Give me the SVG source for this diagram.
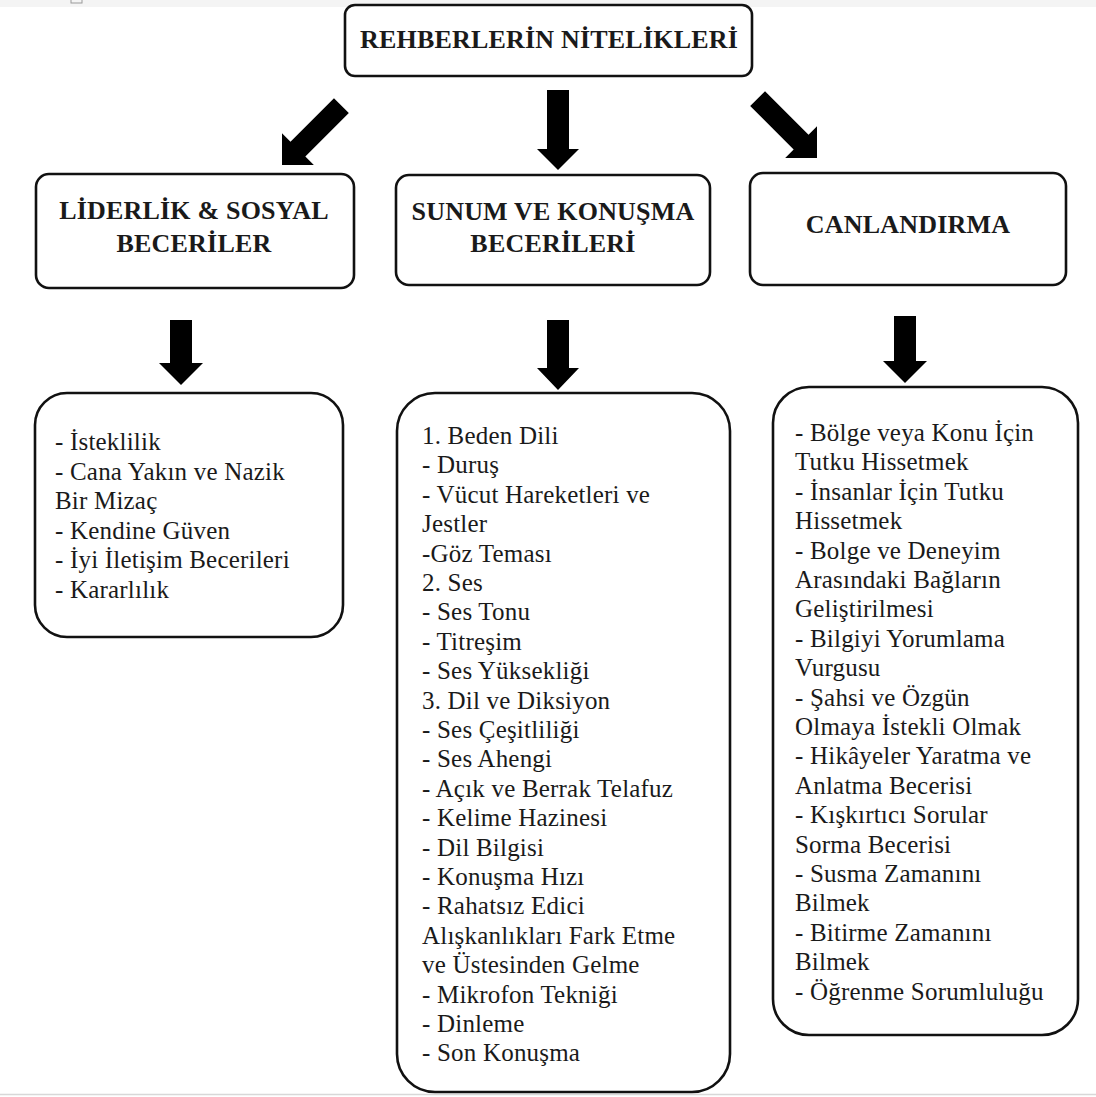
<svg xmlns="http://www.w3.org/2000/svg" width="1096" height="1097" viewBox="0 0 1096 1097">
  <style>
    .box { fill: #ffffff; stroke: #111111; stroke-width: 2.6; }
    .head { font-family: 'Liberation Serif', 'Times New Roman', serif; font-weight: bold; font-size: 26px; letter-spacing: 0.2px; fill: #1a1a1a; text-anchor: middle; }
    .item { font-family: 'Liberation Serif', 'Times New Roman', serif; font-size: 25px; letter-spacing: 0.2px; fill: #1a1a1a; }
    .arrow { fill: #000000; }
  </style>

  <!-- page background with the faint scan edges -->
  <rect x="0" y="0" width="1096" height="1097" fill="#ffffff"/>
  <rect x="0" y="0" width="1096" height="7" fill="#f4f4f4"/>
  <rect x="71" y="-2" width="11" height="5" fill="none" stroke="#9a9a9a" stroke-width="1"/>
  <line x1="0" y1="1094.5" x2="1096" y2="1094.5" stroke="#d8d8d8" stroke-width="1.5"/>

  <!-- connectors: block arrows -->
  <g id="connectors">
    <!-- title to the three categories -->
    <polygon class="arrow" transform="translate(282,165) rotate(45)" points="0,0 -22.5,-22.5 -10.5,-22.5 -10.5,-84 10.5,-84 10.5,-22.5 22.5,-22.5"/>
    <polygon class="arrow" points="558,170 537,149 547,149 547,90 569,90 569,149 579,149"/>
    <polygon class="arrow" transform="translate(817,158) rotate(-45)" points="0,0 -22.5,-22.5 -10.5,-22.5 -10.5,-84 10.5,-84 10.5,-22.5 22.5,-22.5"/>
    <!-- categories to their lists -->
    <polygon class="arrow" points="181,385 159,363 170,363 170,320 192,320 192,363 203,363"/>
    <polygon class="arrow" points="558,390 537,368 547,368 547,320 569,320 569,368 579,368"/>
    <polygon class="arrow" points="905,383 883,361 894,361 894,316 916,316 916,361 927,361"/>
  </g>

  <!-- title -->
  <g id="node-title">
    <rect class="box" x="345" y="5" width="407" height="71" rx="10"/>
    <text class="head" x="549" y="48">REHBERLERİN NİTELİKLERİ</text>
  </g>

  <!-- category: leadership and social skills -->
  <g id="node-leadership">
    <rect class="box" x="36" y="174" width="318" height="114" rx="13"/>
    <text class="head" x="194" y="219">LİDERLİK &amp; SOSYAL</text>
    <text class="head" x="194" y="252">BECERİLER</text>
  </g>

  <!-- category: presentation and speaking skills -->
  <g id="node-presentation">
    <rect class="box" x="396" y="175" width="314" height="110" rx="13"/>
    <text class="head" x="553" y="220">SUNUM VE KONUŞMA</text>
    <text class="head" x="553" y="252">BECERİLERİ</text>
  </g>

  <!-- category: interpretation -->
  <g id="node-animation">
    <rect class="box" x="750" y="173" width="316" height="112" rx="13"/>
    <text class="head" x="908" y="233">CANLANDIRMA</text>
  </g>

  <!-- list: leadership and social skills -->
  <g id="node-leadership-list">
    <rect class="box" x="35" y="393" width="308" height="244" rx="32"/>
    <text class="item" x="55" y="450">- İsteklilik</text>
    <text class="item" x="55" y="479.5">- Cana Yakın ve Nazik</text>
    <text class="item" x="55" y="509">Bir Mizaç</text>
    <text class="item" x="55" y="538.5">- Kendine Güven</text>
    <text class="item" x="55" y="568">- İyi İletişim Becerileri</text>
    <text class="item" x="55" y="597.5">- Kararlılık</text>
  </g>

  <!-- list: presentation and speaking skills -->
  <g id="node-presentation-list">
    <rect class="box" x="397" y="393" width="333" height="699" rx="38"/>
    <text class="item" x="422" y="444">1. Beden Dili</text>
    <text class="item" x="422" y="473.4">- Duruş</text>
    <text class="item" x="422" y="502.8">- Vücut Hareketleri ve</text>
    <text class="item" x="422" y="532.2">Jestler</text>
    <text class="item" x="422" y="561.6">-Göz Teması</text>
    <text class="item" x="422" y="591">2. Ses</text>
    <text class="item" x="422" y="620.4">- Ses Tonu</text>
    <text class="item" x="422" y="649.8">- Titreşim</text>
    <text class="item" x="422" y="679.2">- Ses Yüksekliği</text>
    <text class="item" x="422" y="708.6">3. Dil ve Diksiyon</text>
    <text class="item" x="422" y="738">- Ses Çeşitliliği</text>
    <text class="item" x="422" y="767.4">- Ses Ahengi</text>
    <text class="item" x="422" y="796.8">- Açık ve Berrak Telafuz</text>
    <text class="item" x="422" y="826.2">- Kelime Hazinesi</text>
    <text class="item" x="422" y="855.6">- Dil Bilgisi</text>
    <text class="item" x="422" y="885">- Konuşma Hızı</text>
    <text class="item" x="422" y="914.4">- Rahatsız Edici</text>
    <text class="item" x="422" y="943.8">Alışkanlıkları Fark Etme</text>
    <text class="item" x="422" y="973.2">ve Üstesinden Gelme</text>
    <text class="item" x="422" y="1002.6">- Mikrofon Tekniği</text>
    <text class="item" x="422" y="1032">- Dinleme</text>
    <text class="item" x="422" y="1061.4">- Son Konuşma</text>
  </g>

  <!-- list: interpretation -->
  <g id="node-animation-list">
    <rect class="box" x="773" y="387" width="305" height="648" rx="36"/>
    <text class="item" x="795" y="441">- Bölge veya Konu İçin</text>
    <text class="item" x="795" y="470.4">Tutku Hissetmek</text>
    <text class="item" x="795" y="499.8">- İnsanlar İçin Tutku</text>
    <text class="item" x="795" y="529.2">Hissetmek</text>
    <text class="item" x="795" y="558.6">- Bolge ve Deneyim</text>
    <text class="item" x="795" y="588">Arasındaki Bağların</text>
    <text class="item" x="795" y="617.4">Geliştirilmesi</text>
    <text class="item" x="795" y="646.8">- Bilgiyi Yorumlama</text>
    <text class="item" x="795" y="676.2">Vurgusu</text>
    <text class="item" x="795" y="705.6">- Şahsi ve Özgün</text>
    <text class="item" x="795" y="735">Olmaya İstekli Olmak</text>
    <text class="item" x="795" y="764.4">- Hikâyeler Yaratma ve</text>
    <text class="item" x="795" y="793.8">Anlatma Becerisi</text>
    <text class="item" x="795" y="823.2">- Kışkırtıcı Sorular</text>
    <text class="item" x="795" y="852.6">Sorma Becerisi</text>
    <text class="item" x="795" y="882">- Susma Zamanını</text>
    <text class="item" x="795" y="911.4">Bilmek</text>
    <text class="item" x="795" y="940.8">- Bitirme Zamanını</text>
    <text class="item" x="795" y="970.2">Bilmek</text>
    <text class="item" x="795" y="999.6">- Öğrenme Sorumluluğu</text>
  </g>
</svg>
